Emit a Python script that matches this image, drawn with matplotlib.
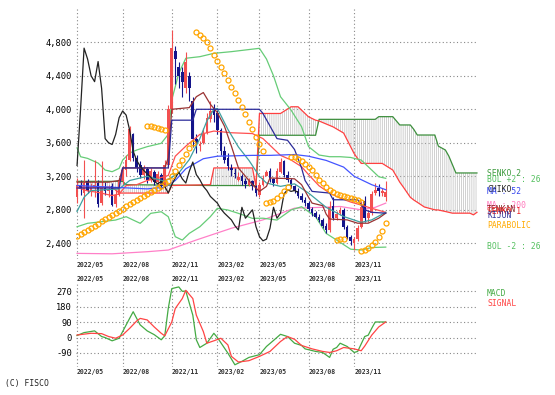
import numpy as np
import matplotlib
matplotlib.use("Agg")
import matplotlib.pyplot as plt

# weekly candles, index 0 = first week of 2022/05
opens = [2950, 3100, 3000, 3140, 3030, 3060, 3120, 2880, 3060, 3020,
         3080, 2870, 2980, 3150, 3280, 3400, 3700, 3420, 3330, 3220,
         3290, 3160, 3250, 3130, 3220, 3080, 3330, 4000, 4700, 4500,
         4450, 4250, 4400, 4100, 3650, 3560, 3600, 3720, 3880, 4020,
         3950, 3750, 3500, 3420, 3300, 3240, 3160, 3200, 3150, 3100,
         3140, 3080, 2980, 3100, 3200, 3260, 3170, 3120, 3250, 3380,
         3220, 3160, 3080, 3030, 2960, 2920, 2880, 2810, 2760, 2720,
         2680, 2610, 2560, 2840, 2700, 2760, 2800, 2600, 2480, 2400,
         2450, 2600, 2900, 2700, 2760, 3000, 3060, 3000, 2950]
highs = [3180, 3160, 3400, 3170, 3120, 3390, 3160, 3380, 3130, 3100,
         3120, 3050, 3180, 3320, 3450, 3800, 3720, 3460, 3380, 3330,
         3310, 3300, 3270, 3260, 3240, 3400, 4050, 4950, 4750, 4560,
         4500, 4680, 4450, 4150, 3700, 3620, 3780, 3950, 4100, 4060,
         3990, 3780, 3560, 3480, 3350, 3300, 3250, 3230, 3180, 3180,
         3160, 3100, 3130, 3220, 3280, 3300, 3180, 3300, 3420, 3400,
         3260, 3180, 3100, 3060, 3000, 2950, 2910, 2830, 2790, 2750,
         2700, 2640, 2900, 2950, 2790, 2830, 2820, 2620, 2500, 2480,
         2620, 2900, 2960, 2800, 3020, 3120, 3110, 3060, 3150]
lows = [2880, 2980, 2700, 3000, 2960, 2950, 2830, 2860, 2980, 2950,
        2840, 2830, 2960, 3100, 3200, 3380, 3380, 3250, 3180, 3170,
        3120, 3130, 3100, 3090, 3050, 3050, 3300, 3950, 4300, 4250,
        4150, 4200, 4100, 3550, 3480, 3500, 3580, 3700, 3850, 3850,
        3700, 3450, 3360, 3280, 3200, 3180, 3150, 3100, 3060, 3080,
        3040, 2960, 2950, 3080, 3200, 3130, 3090, 3110, 3240, 3190,
        3130, 3060, 3000, 2940, 2890, 2840, 2780, 2730, 2700, 2650,
        2580, 2520, 2540, 2680, 2680, 2740, 2570, 2450, 2380, 2320,
        2430, 2580, 2650, 2660, 2740, 2980, 2960, 2970, 2900]
closes = [3100, 3050, 3120, 3030, 3070, 3100, 2870, 3060, 3020, 3050,
          2860, 2980, 3150, 3280, 3400, 3760, 3420, 3300, 3220, 3300,
          3160, 3260, 3130, 3230, 3080, 3330, 4000, 4730, 4600, 4400,
          4330, 4570, 4250, 3650, 3600, 3580, 3700, 3900, 3980, 3930,
          3750, 3500, 3390, 3320, 3270, 3230, 3190, 3140, 3110, 3140,
          3080, 3000, 3100, 3180, 3250, 3170, 3120, 3260, 3370, 3220,
          3160, 3080, 3030, 2960, 2920, 2880, 2810, 2760, 2720, 2680,
          2610, 2560, 2830, 2700, 2750, 2800, 2600, 2480, 2430, 2450,
          2580, 2830, 2700, 2760, 2990, 3040, 3020, 3030, 3010]
chiko_shift = 25

ma52_x = [0, 10, 20, 25, 28, 31, 36, 40, 50, 55, 62, 66, 71, 76, 79, 84, 88]
ma52 = [3090, 3070, 3050, 3070, 3150, 3290, 3410, 3440, 3450, 3450, 3460, 3440, 3390, 3310, 3200, 3100, 3040]

ma200_x = [0, 10, 20, 26, 34, 44, 53, 62, 70, 75, 81, 85, 88]
ma200 = [2280, 2275, 2300, 2320, 2440, 2580, 2680, 2820, 2830, 2840, 2800, 2830, 2880]

bolu_x = [0, 1, 3, 6, 8, 10, 12, 13, 15, 17, 20, 24, 26, 27, 29, 31, 35, 39, 44, 52,
          54, 56, 58, 61, 64, 66, 69, 72, 75, 78, 81, 84, 86, 88]
bolu = [3540, 3434, 3414, 3358, 3275, 3255, 3295, 3394, 3478, 3514, 3554, 3594, 3700, 4111, 4430,
        4609, 4628, 4668, 4688, 4728, 4600, 4400, 4150, 3991, 3792, 3554, 3454, 3434, 3434, 3425,
        3394, 3275, 3195, 3176]
boll_x = [0, 3, 7, 11, 14, 16, 18, 21, 24, 26, 27, 28, 30, 32, 35, 38, 40, 43, 46, 50,
          53, 57, 61, 64, 68, 71, 74, 78, 81, 84, 88]
boll = [2598, 2639, 2658, 2678, 2718, 2678, 2639, 2758, 2777, 2718, 2598, 2479, 2439, 2519, 2598,
        2718, 2818, 2798, 2758, 2698, 2700, 2678, 2798, 2837, 2718, 2519, 2439, 2330, 2320, 2350, 2355]
mid_x = [0, 3, 6, 10, 12, 14, 17, 20, 24, 26, 28, 31, 35, 39, 44, 50, 53, 58, 61, 64,
         66, 69, 72, 75, 78, 81, 84, 88]
mid = [3068, 3026, 3008, 2970, 2990, 3090, 3100, 3150, 3185, 3210, 3440, 3560, 3700, 3740, 3720,
       3710, 3650, 3450, 3395, 3315, 3220, 3086, 3000, 2940, 2893, 2857, 2818, 2770]

ma13_x = [0, 2, 4, 8, 12, 15, 20, 25, 29, 32, 35, 37, 39, 40, 43, 46, 49, 52, 54, 58,
          62, 66, 71, 76, 81, 84, 88]
ma13 = [2780, 2950, 3030, 3040, 3050, 3150, 3200, 3140, 3240, 3400, 3650, 3860, 4000, 4010, 3760,
        3550, 3390, 3200, 3120, 3080, 3110, 3000, 2830, 2720, 2650, 2680, 2770]

tenkan_x = [0, 9, 12, 13, 25, 26, 27, 32, 34, 36, 38, 40, 42, 44, 46, 48, 50, 52, 54, 55,
            62, 64, 66, 67, 70, 71, 72, 77, 80, 83, 86, 88]
tenkan = [3130, 3130, 3150, 3300, 3300, 3420, 4000, 4020, 4150, 4200, 4060, 3960, 3800, 3560, 3300,
          3200, 3100, 3020, 3080, 3180, 3170, 3100, 2950, 2880, 2850, 2750, 2690, 2680, 2640, 2640,
          2700, 2760]
kijun_x = [0, 12, 13, 26, 27, 33, 34, 52, 53, 55, 57, 60, 62, 64, 65, 67, 72, 73, 80, 82, 84, 88]
kijun = [3060, 3060, 3300, 3300, 3870, 3870, 4000, 4000, 3950, 3800, 3650, 3630, 3520, 3300, 3150,
         3020, 3000, 2920, 2920, 2800, 2770, 2760]

senko_x = [0, 10, 12, 13, 14, 26, 27, 38, 39, 50, 51, 52, 58, 61, 63, 66, 68, 69, 73, 76,
           79, 81, 85, 86, 87, 90, 92, 93, 95, 96, 97, 99, 102, 103, 105, 106, 107, 108, 112, 113, 114]
senko1 = [3070, 3070, 3000, 3000, 3000, 3000, 3090, 3100, 3300, 3300, 3080, 3950, 3950, 4030, 4030,
          3910, 3870, 3860, 3790, 3716, 3470, 3354, 3354, 3354, 3354, 3275, 3130, 3072, 2950, 2917,
          2890, 2834, 2800, 2798, 2780, 2770, 2760, 2760, 2760, 2740, 2770]
senko2 = [3140, 3140, 3140, 3140, 3100, 3095, 3095, 3090, 3090, 3090, 3090, 3690, 3690, 3690, 3690,
          3690, 3690, 3880, 3880, 3880, 3880, 3880, 3880, 3912, 3912, 3912, 3813, 3813, 3813, 3760,
          3693, 3693, 3693, 3560, 3514, 3440, 3340, 3240, 3240, 3240, 3240]

# parabolic SAR dots, by run
sar_a = [2490, 2512, 2533, 2558, 2585, 2608, 2636, 2662, 2688, 2712, 2738, 2765, 2788, 2815, 2840,
         2866, 2890, 2915, 2940, 2962, 2985, 3010, 3035, 3058, 3085, 3115, 3150, 3200, 3260, 3330,
         3400, 3470, 3540, 3600]
sar_b = [3800, 3795, 3785, 3775, 3765, 3755]
sar_d = [4920, 4890, 4850, 4800, 4730, 4650, 4580, 4500, 4430, 4350, 4270, 4190, 4110, 4030, 3940,
         3850, 3760, 3670, 3590, 3500]
sar_e = [2880, 2890, 2910, 2940, 2980, 3030, 3070]
sar_f = [3430, 3425, 3410, 3385, 3350, 3315, 3270, 3210, 3160, 3116, 3075, 3040, 3010, 2990, 2975,
         2965, 2955, 2945, 2935, 2920, 2890]
sar_g = [2445, 2450, 2455]
sar_h = [2310, 2320, 2345, 2380, 2420, 2480, 2550, 2640]
sar_start = [0, 20, 34, 54, 61, 74, 81]

macd_x = [0, 2, 5, 7, 8, 10, 12, 13, 14, 16, 17, 18, 20, 22, 24, 25, 26, 27, 29, 30,
          31, 33, 34, 35, 37, 39, 40, 43, 45, 47, 49, 52, 54, 56, 58, 60, 62, 64, 65, 68,
          70, 72, 73, 74, 75, 77, 79, 80, 82, 83, 84, 85, 87, 88]
macd = [12, 29, 39, 6, 0, -19, -4, 35, 74, 151, 112, 74, 39, 17, -13, 10, 170, 286, 296, 270,
        272, 131, -13, -58, -33, 25, 0, -91, -159, -139, -116, -100, -52, -17, 19, 6, -33, -46, -66, -81,
        -87, -116, -68, -58, -33, -52, -87, -81, 6, 14, 54, 91, 91, 91]
sig_x = [0, 4, 7, 9, 11, 13, 15, 17, 18, 20, 22, 24, 25, 27, 28, 30, 31, 33, 34, 36,
         37, 39, 41, 43, 44, 46, 49, 52, 55, 58, 60, 62, 64, 67, 70, 72, 74, 76, 79, 81,
         82, 84, 86, 88]
signal = [15, 25, 23, 6, -4, 15, 54, 97, 112, 103, 62, 25, 10, 91, 170, 228, 276, 228, 131, 35,
          -33, -19, -4, -43, -110, -143, -135, -110, -81, -23, 6, -10, -46, -66, -81, -87, -77, -58, -66, -77,
          -50, 14, 62, 91]

month_idx = [0, 13, 27, 40, 52, 66, 79]
month_lbl = ["2022/05", "2022/08", "2022/11", "2023/02", "2023/05", "2023/08", "2023/11"]
price_ticks = [2400, 2800, 3200, 3600, 4000, 4400, 4800]
macd_ticks = [-90, 0, 90, 180, 270]

plt.rcParams["font.family"] = ["DejaVu Sans Mono"]
plt.rcParams["hatch.linewidth"] = 0.5

W, H = 555, 395
fig = plt.figure(figsize=(W / 100, H / 100), dpi=100)
fig.patch.set_facecolor("white")

def box(l, t, r, b):
    return [l / W, 1 - b / H, (r - l) / W, (b - t) / H]

ax = fig.add_axes(box(76, 7, 478, 259))
ax2 = fig.add_axes(box(76, 284, 478, 367))

grid_kw = dict(color="#888888", lw=0.8, ls=(0, (1, 2.2)))
for a in (ax, ax2):
    for s in a.spines.values():
        s.set_visible(False)
    a.set_xlim(-0.3, 114.3)
    a.set_xticks(month_idx)
    a.grid(True, **grid_kw)
    a.set_axisbelow(True)
    a.tick_params(length=0, labelsize=6.3, pad=3)

ax.set_ylim(2213, 5221)
ax.set_yticks(price_ticks)
ax.set_yticklabels(["{:,}".format(v) for v in price_ticks])
ax.set_xticklabels(month_lbl)
ax.tick_params(axis="x", labelsize=4.7, pad=2.5)
for t in ax.get_xticklabels():
    t.set_ha("left")
    t.set_fontweight("bold")
    t.set_color("#333333")

# cloud
ax.fill_between(senko_x, senko1, senko2, facecolor="none", edgecolor="#bdbdbd",
                hatch="|" * 8, linewidth=0, zorder=1)
ax.plot(senko_x, senko2, color="#3d8f3d", lw=0.9, zorder=2)
ax.plot(senko_x, senko1, color="#ff4040", lw=0.9, zorder=2)

ax.plot(ma200_x, ma200, color="#ff80c8", lw=0.9, zorder=2)
ax.plot(bolu_x, bolu, color="#66cc77", lw=0.9, zorder=2)
ax.plot(boll_x, boll, color="#66cc77", lw=0.9, zorder=2)

# candles
idx = np.arange(len(closes))
o = np.array(opens); c = np.array(closes)
up = c >= o
col = np.where(up, "#f25050", "#14148a")
ax.vlines(idx, lows, highs, colors=col, lw=0.8, zorder=3)
ax.bar(idx, np.abs(c - o), bottom=np.minimum(o, c), width=0.75, color=col,
       linewidth=0, zorder=3)

ax.plot(mid_x, mid, color="#ff5050", lw=0.9, zorder=4)
ax.plot(ma13_x, ma13, color="#3fa0a0", lw=0.9, zorder=4)
ax.plot(ma52_x, ma52, color="#4455ff", lw=0.9, zorder=4)
ax.plot(tenkan_x, tenkan, color="#993333", lw=0.9, zorder=4)
ax.plot(kijun_x, kijun, color="#2b2b9a", lw=0.9, zorder=4)
ax.plot(idx[chiko_shift:] - chiko_shift, c[chiko_shift:], color="#222222", lw=0.9, zorder=4)

for start, run in zip(sar_start, [sar_a, sar_b, sar_d, sar_e, sar_f, sar_g, sar_h]):
    ax.plot(np.arange(start, start + len(run)), run, ls="none", marker="o", ms=3.6,
            mfc="none", mec="#ffa500", mew=0.9, zorder=5)

# MACD panel
ax2.set_ylim(-172, 313)
ax2.set_yticks(macd_ticks)
ax2.set_yticklabels([str(v) for v in macd_ticks])
ax2.tick_params(axis="x", labelsize=4.7, pad=1.5, labeltop=True, labelbottom=True)
ax2.set_xticklabels(month_lbl)
for t in ax2.get_xticklabels(which="both"):
    t.set_ha("left")
    t.set_fontweight("bold")
    t.set_color("#333333")
for t in ax2.xaxis.get_majorticklabels():
    t.set_ha("left")
ax2.plot(macd_x, macd, color="#44aa44", lw=0.9)
ax2.plot(sig_x, signal, color="#ff4444", lw=0.9)

# side labels
legend = [("SENKO 2", 173, "#3d9a3d"), ("BOL +2 : 26", 180, "#55c060"),
          ("CHIKO", 189, "#222222"), ("MA : 52", 192, "#3344ee"),
          ("MA : 200", 205, "#ff77bb"), ("TENKAN", 209.5, "#882222"),
          ("SENKO 1", 212, "#ee2222"), ("KIJUN", 215, "#333399"),
          ("PARABOLIC", 225.5, "#ffaa00"), ("BOL -2 : 26", 246.5, "#55c060"),
          ("MACD", 294, "#44aa44"), ("SIGNAL", 304, "#ff4444")]
for txt, y, colr in legend:
    fig.text(487 / W, 1 - y / H, txt, color=colr, fontsize=5.8, va="center", ha="left")

fig.text(5 / W, 1 - 383.5 / H, "(C) FISCO", fontsize=5.8, va="center", ha="left", color="#222222")

fig.savefig("out.png", dpi=100)
